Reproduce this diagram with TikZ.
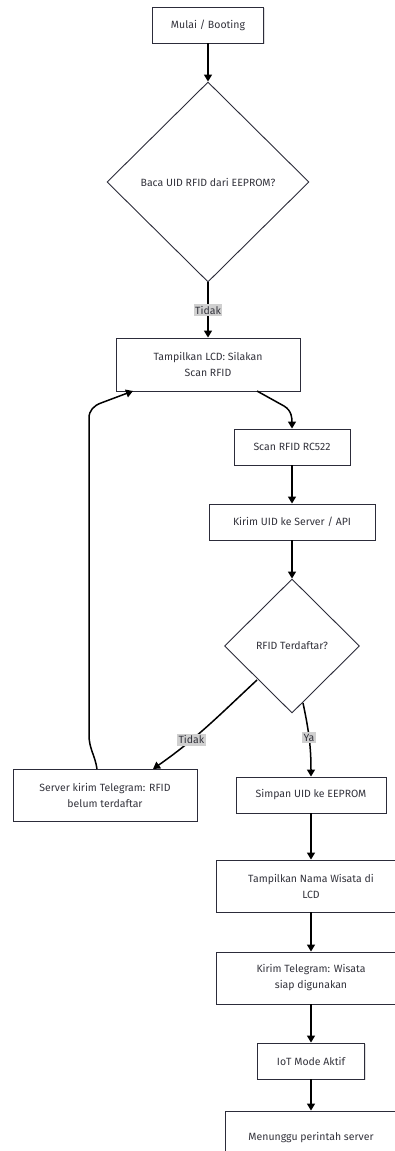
\documentclass[tikz,border=0pt]{standalone}
\usepackage{fontspec}
\setmainfont{Fira Sans}
\usetikzlibrary{arrows.meta,shapes.geometric,shadows}
\definecolor{edge}{RGB}{44,44,58}
\definecolor{ink}{RGB}{51,51,60}
\definecolor{tagbg}{RGB}{208,208,208}
\tikzset{
  every node/.style={font=\fontsize{10.5}{16}\selectfont, text=ink},
  procbox/.style={draw=edge, line width=0.9pt, fill=white, rectangle, align=center, inner sep=0pt,
    drop shadow={shadow xshift=1.2pt, shadow yshift=-1.2pt, fill=gray!45, opacity=0.55}},
  decision/.style={draw=edge, line width=0.9pt, fill=white, diamond, aspect=1, inner sep=0pt, align=center},
  flow/.style={draw=black, line width=1.5pt, -{Triangle[width=8pt,length=7pt]}},
  tag/.style={fill=tagbg, inner xsep=1.5pt, inner ysep=2pt, text=ink}
}
\begin{document}
\begin{tikzpicture}[x=1pt,y=-1pt]
\path[use as bounding box, clip] (0,0) rectangle (395,1151);
\fill[white] (0,0) rectangle (395,1151);

% main column
\node[procbox, minimum width=111pt, minimum height=36pt] (start) at (208,25) {Mulai / Booting};
\node[decision, minimum width=202pt, minimum height=200pt] (eeprom) at (208,182) {Baca UID RFID dari EEPROM?};
\node[procbox, minimum width=184pt, minimum height=53pt] (lcd) at (208,364.5) {Tampilkan LCD: Silakan\\Scan RFID};
\node[procbox, minimum width=116pt, minimum height=36pt] (scan) at (292,447) {Scan RFID RC522};
\node[procbox, minimum width=166pt, minimum height=36pt] (send) at (292,522) {Kirim UID ke Server / API};
\node[decision, minimum width=135pt, minimum height=134pt] (reg) at (292,646) {RFID Terdaftar?};
\node[procbox, minimum width=184pt, minimum height=52pt] (notreg) at (105,795) {Server kirim Telegram: RFID\\belum terdaftar};
\node[procbox, minimum width=150pt, minimum height=36pt] (save) at (311,795) {Simpan UID ke EEPROM};
\node[procbox, minimum width=190pt, minimum height=52pt] (name) at (311,886) {Tampilkan Nama Wisata di\\LCD};
\node[procbox, minimum width=190pt, minimum height=52pt] (ready) at (311,978) {Kirim Telegram: Wisata\\siap digunakan};
\node[procbox, minimum width=107pt, minimum height=36pt] (iot) at (311,1061) {IoT Mode Aktif};
\node[procbox, minimum width=172pt, minimum height=50pt, text depth=0pt] (wait) at (311,1136) {Menunggu perintah server};

% connectors
\draw[flow] (start) -- (eeprom);
\draw[flow] (eeprom) -- node[tag, pos=0.5] {Tidak} (lcd);

\coordinate (lcdout) at (257,391);
\coordinate (lcdbend) at (284,406);
\draw[flow] (lcdout) -- (lcdbend) to[out=-30,in=90] (scan.north);

\draw[flow] (scan) -- (send);
\draw[flow] (send) -- (reg);

\coordinate (noout) at (257,680);
\coordinate (noin) at (153,769);
\draw[flow] (noout) to[out=-137,in=35] node[tag, pos=0.66] {Tidak} (noin);

\coordinate (yesout) at (303,703);
\draw[flow] (yesout) to[out=-78,in=90] node[tag, pos=0.47] {Ya} (save.north);

\coordinate (loopout) at (97,769);
\coordinate (loopa) at (89,735);
\coordinate (loopb) at (89,418);
\coordinate (loopc) at (101,403);
\coordinate (loopin) at (133,391);
\draw[flow] (loopout) to[out=98,in=-90] (loopa) -- (loopb) to[out=90,in=200] (loopc) -- (loopin);

\draw[flow] (save) -- (name);
\draw[flow] (name) -- (ready);
\draw[flow] (ready) -- (iot);
\draw[flow] (iot) -- (wait);
\end{tikzpicture}
\end{document}
